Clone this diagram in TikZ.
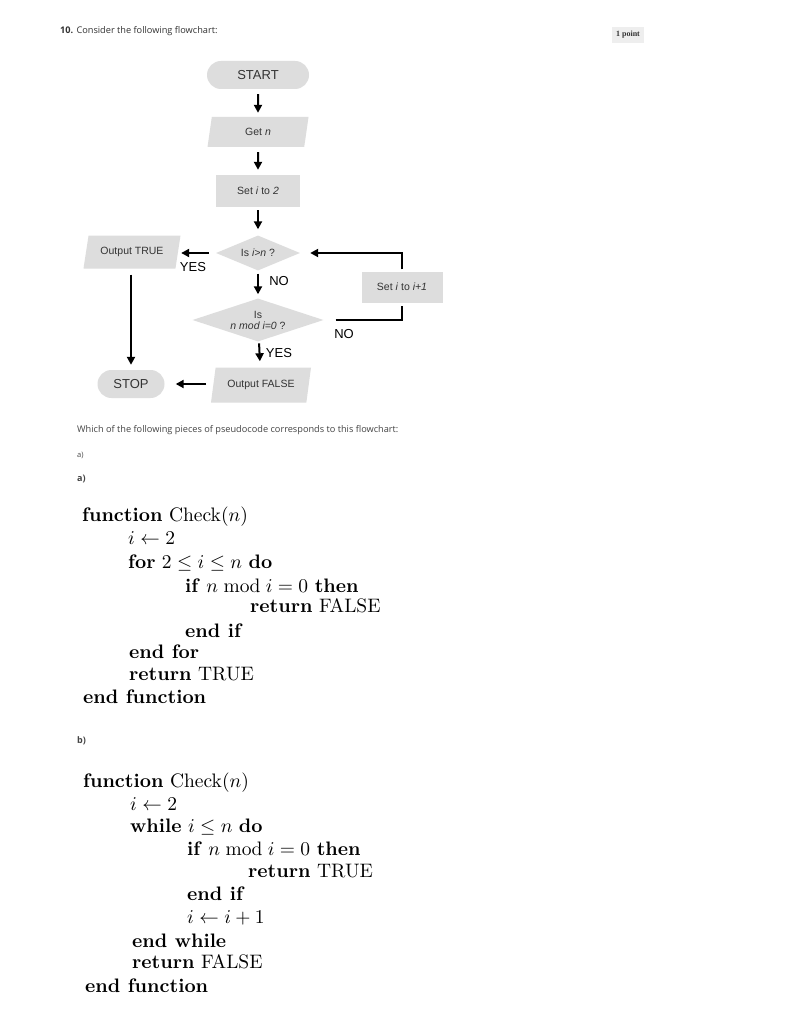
\documentclass[tikz,border=0pt]{standalone}
\usepackage{amsmath,amssymb}
\usepackage{fontspec}
\usepackage{xcolor}
\usetikzlibrary{arrows.meta,positioning,shapes.geometric,shapes.misc}
\newfontfamily\helv{Liberation Sans}
\newfontfamily\websans{Open Sans}
\newfontfamily\webserif{Liberation Serif}
\definecolor{cFill}{HTML}{DDDDDD}
\definecolor{cText}{HTML}{333333}
\definecolor{cWeb}{HTML}{444444}
\definecolor{cBadge}{HTML}{EEEEEE}
\tikzset{
  pill/.style={fill=cFill,rounded rectangle,minimum height=28pt,inner sep=0pt,font=\helv\fontsize{13}{15}\selectfont,text=cText},
  iobox/.style={fill=cFill,trapezium,trapezium left angle=60,trapezium right angle=120,trapezium stretches body=true,inner sep=0pt,minimum height=30pt,font=\helv\fontsize{10.5}{12}\selectfont,text=cText},
  procbox/.style={fill=cFill,rectangle,inner sep=0pt,font=\helv\fontsize{10.5}{12}\selectfont,text=cText},
  testbox/.style={fill=cFill,diamond,aspect=2.4,inner sep=0pt,align=center,font=\helv\fontsize{10.5}{11}\selectfont,text=cText},
  arr/.style={-{Triangle[length=8pt,width=8pt]},line width=2pt,black},
  lbl/.style={font=\helv\fontsize{13}{15}\selectfont,text=black,inner sep=0pt},
  code/.style={anchor=base west,inner sep=0pt,font=\fontsize{10}{12}\selectfont},
  web/.style={anchor=west,inner sep=0pt,font=\websans\fontsize{9.2}{11}\selectfont,text=cWeb},
}

\begin{document}
\begin{tikzpicture}[x=1pt,y=-1pt]
  \useasboundingbox (0,0) rectangle (790,1024);
  \fill[white] (0,0) rectangle (790,1024);
  % header
  \node[web,text=cText] (title) at (60,31) {\textbf{10.} Consider the following flowchart:};
  \node[fill=cBadge,inner sep=2pt,minimum width=32pt,minimum height=16pt,font=\webserif\bfseries\fontsize{8}{9}\selectfont,text=cText] (badge) at (628,35) {1 point};
  % flowchart
  \node[pill,minimum width=102pt] (start) at (258,75) {START};
  \node[iobox,minimum width=101pt] (getn) at (258,132) {Get \textit{n}};
  \node[procbox,minimum width=84pt,minimum height=32pt] (seti) at (258,191) {Set \textit{i} to \textit{2}};
  \node[testbox,minimum width=84pt,minimum height=35pt] (isgt) at (258,253) {Is \textit{i>n} ?};
  \node[testbox,minimum width=131pt,minimum height=43pt] (ismod) at (258,320) {Is\\\textit{n mod i=0} ?};
  \node[iobox,minimum width=97pt,minimum height=33pt,trapezium left angle=62,trapezium right angle=118] (outt) at (132,252) {Output TRUE};
  \node[iobox,minimum width=100pt,minimum height=35pt,trapezium left angle=64,trapezium right angle=116] (outf) at (261,385) {Output FALSE};
  \node[pill,minimum width=67pt] (stop) at (131,384) {STOP};
  \node[procbox,minimum width=81pt,minimum height=31pt] (inci) at (402,287) {Set \textit{i} to \textit{i+1}};
  % connectors
  \draw[arr,shorten <=5pt,shorten >=4pt] (start) -- (getn);
  \draw[arr,shorten <=5pt,shorten >=5pt] (getn) -- (seti);
  \draw[arr,shorten <=3pt,shorten >=6pt] (seti) -- (isgt);
  \draw[arr,shorten <=3pt,shorten >=4pt] (isgt) -- (ismod);
  \draw[arr,shorten <=2pt,shorten >=6pt] (ismod) -- (outf);
  \draw[arr,shorten <=7pt,shorten >=3pt] (isgt.west) -- (outt.east |- isgt.west);
  \draw[arr,shorten <=6pt,shorten >=5pt] (outt.south -| stop.north) -- (stop.north);
  \draw[arr,shorten <=7pt,shorten >=11pt] (outf.west |- stop.east) -- (stop.east);
  \draw[line width=2pt,shorten <=12pt] (ismod.east) -- (ismod.east -| inci.south) -- ([yshift=-3pt]inci.south);
  \draw[arr,shorten >=10pt] ([yshift=2pt]inci.north) -- (inci.north |- isgt.east) -- (isgt.east);
  \node[lbl] (yes1) at (193,267) {YES};
  \node[lbl] (no1) at (279,281) {NO};
  \node[lbl] (no2) at (344,334) {NO};
  \node[lbl] (yes2) at (279,353) {YES};
  % question
  \node[web] (ask) at (77,430) {Which of the following pieces of pseudocode corresponds to this flowchart:};
  \node[web,font=\websans\fontsize{7.5}{8}\selectfont,text=cWeb] (cut) at (77,455) {a)};
  \node[web,font=\websans\bfseries\fontsize{9}{10}\selectfont] (opta) at (77,479) {a)};
  \node[web,font=\websans\bfseries\fontsize{9}{10}\selectfont] (optb) at (77,741) {b)};
  % pseudocode a
  \foreach \x/\y/\t [count=\k] in {
    82/521/{\textbf{function} Check($n$)},
    128/544/{$i \leftarrow 2$},
    128/568/{\textbf{for} $2 \le i \le n$ \textbf{do}},
    185/592/{\textbf{if} $n \bmod i = 0$ \textbf{then}},
    250/612/{\textbf{return} FALSE},
    185/637/{\textbf{end if}},
    129/658/{\textbf{end for}},
    129/680/{\textbf{return} TRUE},
    83/703/{\textbf{end function}}}
    \node[code] (ca\k) at (\x,\y) {\scalebox{1.95}{\t}};
  % pseudocode b
  \foreach \x/\y/\t [count=\k] in {
    83/787/{\textbf{function} Check($n$)},
    130/810/{$i \leftarrow 2$},
    130/832/{\textbf{while} $i \le n$ \textbf{do}},
    187/855/{\textbf{if} $n \bmod i = 0$ \textbf{then}},
    248/877/{\textbf{return} TRUE},
    187/900/{\textbf{end if}},
    187/923/{$i \leftarrow i+1$},
    132/947/{\textbf{end while}},
    132/968/{\textbf{return} FALSE},
    85/992/{\textbf{end function}}}
    \node[code] (cb\k) at (\x,\y) {\scalebox{1.95}{\t}};
\end{tikzpicture}
\end{document}
